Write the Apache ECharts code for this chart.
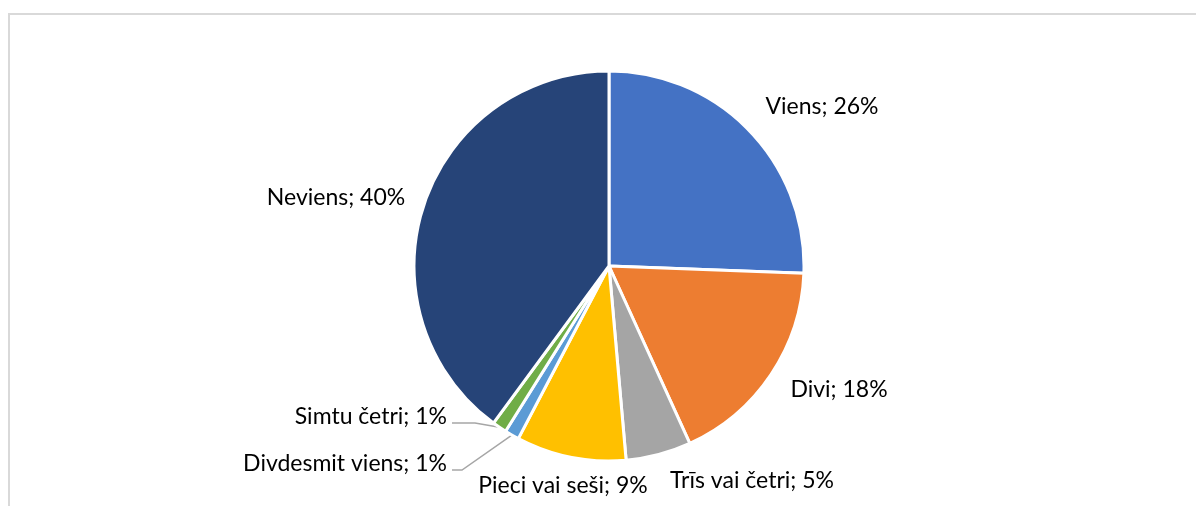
<!DOCTYPE html>
<html>
<head>
<meta charset="utf-8">
<script src="https://cdn.jsdelivr.net/npm/echarts@6/dist/echarts.min.js"></script>
<style>
  html, body { margin: 0; padding: 0; background: #fff; }
</style>
</head>
<body>
<div id="main" style="width:1196px;height:506px;"></div>
<script>
// kategorijas un vērtības (% no respondentiem)
const categories = ['Viens', 'Divi', 'Trīs vai četri', 'Pieci vai seši', 'Divdesmit viens', 'Simtu četri', 'Neviens'];
const values = [25.6, 17.6, 5.4, 9.1, 1.2, 1.2, 39.9];
const colors = ['#4472C4', '#ED7D31', '#A5A5A5', '#FFC000', '#5B9BD5', '#70AD47', '#264478'];

// label placement (Excel-like), [x, y, align]
const labelAt = [
  [822, 107, 'center'],
  [839, 390, 'center'],
  [752, 481, 'center'],
  [563, 486, 'center'],
  [447, 464, 'right'],
  [447, 417, 'right'],
  [336, 198, 'center']
];
// leader line bends for the small slices
const leaderAt = {
  4: [[462, 470], [452, 470]],
  5: [[475, 423], [452, 423]]
};

let myChart = echarts.init(document.getElementById('main'));

const option = {
  animation: false,
  graphic: [{
    type: 'rect',
    shape: { x: 9, y: 14, width: 1300, height: 700 },
    style: { fill: 'none', stroke: '#d9d9d9', lineWidth: 2 },
    silent: true
  }],
  series: [{
    type: 'pie',
    center: [609, 266],
    radius: 195,
    startAngle: 90,
    clockwise: true,
    avoidLabelOverlap: false,
    percentPrecision: 0,
    itemStyle: { borderColor: '#fff', borderWidth: 3 },
    label: {
      show: true,
      position: 'outside',
      formatter: '{b}; {d}%',
      fontFamily: 'Lato',
      fontSize: 23,
      color: '#000'
    },
    labelLine: { show: false, lineStyle: { color: '#a6a6a6', width: 1.5 } },
    labelLayout: function (params) {
      const i = params.dataIndex;
      const p = labelAt[i];
      const res = { x: p[0], y: p[1], align: p[2], verticalAlign: 'middle' };
      if (leaderAt[i] && params.labelLinePoints) {
        res.labelLinePoints = [params.labelLinePoints[0]].concat(leaderAt[i]);
      }
      return res;
    },
    data: categories.map((name, i) => ({
      name: name,
      value: values[i],
      itemStyle: { color: colors[i] },
      labelLine: { show: !!leaderAt[i] }
    }))
  }]
};

myChart.setOption(option);
</script>
</body>
</html>
